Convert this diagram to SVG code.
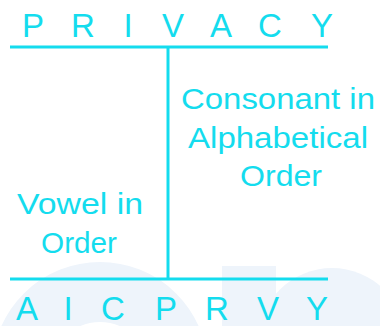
<svg xmlns="http://www.w3.org/2000/svg" width="380" height="326" viewBox="0 0 380 326">
<style>
.ln{stroke:#14dcee;stroke-width:3;fill:none}
.t{font-family:"Liberation Sans",Arial,sans-serif;fill:#14dcee;text-anchor:middle}
.big{font-size:33px}
.lab{font-size:30px}
.wm{fill:#eef4fb}
</style>
<rect width="380" height="326" fill="#ffffff"/>
<g id="watermark">
<circle cx="100" cy="370" r="78" fill="none" stroke="#eef4fb" stroke-width="60"/>
<rect class="wm" x="222" y="266" width="54" height="60"/>
<circle class="wm" cx="332" cy="342" r="74"/>
</g>
<g id="connectors">
<line class="ln" x1="10" y1="47" x2="328" y2="47"/>
<line class="ln" x1="168" y1="47" x2="168" y2="279"/>
<line class="ln" x1="10" y1="279" x2="328" y2="279"/>
</g>
<g id="top-word" class="t big">
<text x="33" y="37">P</text>
<text x="83" y="37">R</text>
<text x="128" y="37">I</text>
<text x="173" y="37">V</text>
<text x="221" y="37">A</text>
<text x="270" y="37">C</text>
<text x="322" y="37">Y</text>
</g>
<g id="bottom-word" class="t big">
<text x="27" y="320">A</text>
<text x="68" y="320">I</text>
<text x="113" y="320">C</text>
<text x="166" y="320">P</text>
<text x="217" y="320">R</text>
<text x="268" y="320">V</text>
<text x="317" y="320">Y</text>
</g>
<g id="consonant-label" class="t lab">
<text x="278" y="109" textLength="194" lengthAdjust="spacingAndGlyphs">Consonant in</text>
<text x="278" y="148" textLength="180" lengthAdjust="spacingAndGlyphs">Alphabetical</text>
<text x="281" y="186" textLength="82" lengthAdjust="spacingAndGlyphs">Order</text>
</g>
<g id="vowel-label" class="t lab">
<text x="80" y="214" textLength="126" lengthAdjust="spacingAndGlyphs">Vowel in</text>
<text x="79" y="253" textLength="76" lengthAdjust="spacingAndGlyphs">Order</text>
</g>
</svg>
